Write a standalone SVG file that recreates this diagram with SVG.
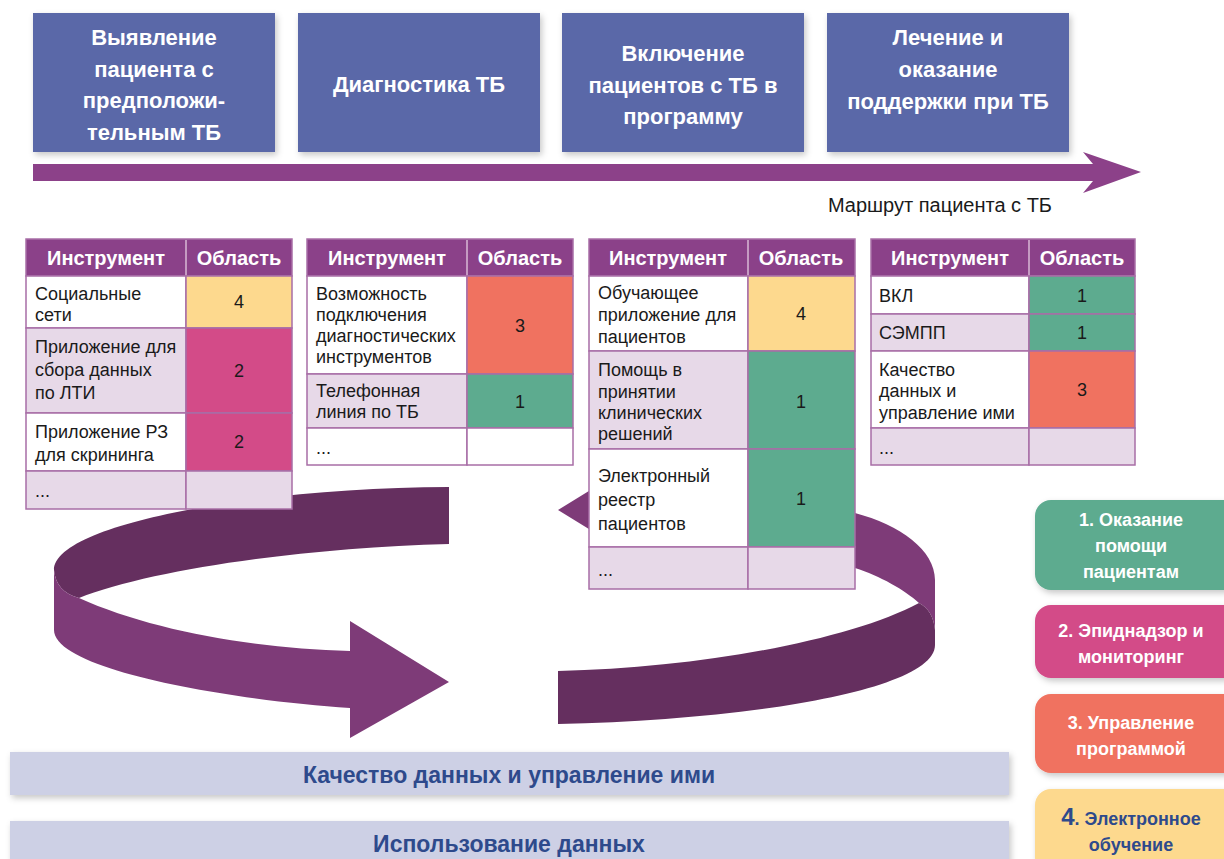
<svg xmlns="http://www.w3.org/2000/svg" width="1224" height="859" viewBox="0 0 1224 859">
<defs>
<filter id="sh" x="-10%" y="-10%" width="130%" height="140%">
<feDropShadow dx="2" dy="3" stdDeviation="3" flood-color="#000" flood-opacity="0.22"/>
</filter>
<style>
text{font-family:"Liberation Sans",Arial,sans-serif;}
.stage rect{fill:#5a67a8;filter:url(#sh);}
.stage text{font-size:22px;font-weight:bold;fill:#fff;text-anchor:middle;}
.hdr{fill:#8b4189;stroke:#a86ea6;stroke-width:1.5;}
.hs{stroke:#d9b9d6;stroke-width:1.5;}
.ht{font-size:20px;font-weight:bold;fill:#fff;text-anchor:middle;}
.cw{fill:#fff;stroke:#a86ea6;stroke-width:1.5;}
.cl{fill:#e7d9e8;stroke:#a86ea6;stroke-width:1.5;}
.c1{fill:#5dab8f;stroke:#a86ea6;stroke-width:1.5;}
.c2{fill:#d34b88;stroke:#a86ea6;stroke-width:1.5;}
.c3{fill:#f07260;stroke:#a86ea6;stroke-width:1.5;}
.c4{fill:#fdd98e;stroke:#a86ea6;stroke-width:1.5;}
.tt{font-size:18px;fill:#1a1a1a;}
.tn{font-size:18px;fill:#1a1a1a;text-anchor:middle;}
.lg rect{filter:url(#sh);}
.lg text{font-size:18px;font-weight:bold;fill:#fff;text-anchor:middle;}
.bar rect{fill:#cdd0e5;filter:url(#sh);}
.bar text{font-size:23px;font-weight:bold;fill:#2e4a8c;text-anchor:middle;}
.dark{fill:#652f5f;}
.light{fill:#7e3b78;}
</style>
</defs>
<rect width="1224" height="859" fill="#fff"/>

<g id="connectors">
<polygon points="33,164 1093,164 1083,152 1141,172 1083,193 1093,181 33,181" fill="#8c4189"/>
<path class="dark" d="M449,487 C250,488 54,525 54,570 Q56,592 79,598 C150,570 300,548 449,544 Z"/>
<path class="light" d="M54,570 Q56,592 79,598 C150,630 250,648 350,651 L350,621 L449,682 L350,738 L350,708 C230,700 54,670 54,630 Z"/>
<path class="light" d="M800,500 L855,513 C900,525 935,550 935,580 L935,630 Q933,610 919,603 C905,590 880,576 855,568 L800,555 Z"/>
<path class="dark" d="M919,603 Q933,610 935,630 L935,645 C935,690 750,720 558,724 L558,671 C700,668 850,640 919,603 Z"/>
<polygon class="light" points="558,510 610,478 610,542"/>
</g>

<g id="stage-1" class="stage">
<rect x="33" y="13" width="242" height="139"/>
<text x="154" y="45">Выявление</text>
<text x="154" y="77">пациента с</text>
<text x="154" y="108">предположи-</text>
<text x="154" y="140">тельным ТБ</text>
</g>
<g id="stage-2" class="stage">
<rect x="298" y="13" width="242" height="139"/>
<text x="419" y="92">Диагностика ТБ</text>
</g>
<g id="stage-3" class="stage">
<rect x="562" y="13" width="242" height="139"/>
<text x="683" y="61">Включение</text>
<text x="683" y="93">пациентов с ТБ в</text>
<text x="683" y="124">программу</text>
</g>
<g id="stage-4" class="stage">
<rect x="827" y="13" width="242" height="139"/>
<text x="948" y="45">Лечение и</text>
<text x="948" y="77">оказание</text>
<text x="948" y="109">поддержки при ТБ</text>
</g>

<g id="route-label">
<text x="1052" y="212" font-size="20" fill="#1a1a1a" text-anchor="end">Маршрут пациента с ТБ</text>
</g>

<g id="table-1">
<rect class="hdr" x="26" y="239" width="266" height="37"/>
<line class="hs" x1="186" y1="240" x2="186" y2="276"/>
<text class="ht" x="106" y="265">Инструмент</text>
<text class="ht" x="239" y="265">Область</text>
<rect class="cw" x="26" y="276" width="160" height="52"/><rect class="c4" x="186" y="276" width="106" height="52"/>
<text class="tt" x="35" y="300">Социальные</text><text class="tt" x="35" y="321">сети</text>
<text class="tn" x="239" y="308">4</text>
<rect class="cl" x="26" y="328" width="160" height="85"/><rect class="c2" x="186" y="328" width="106" height="85"/>
<text class="tt" x="35" y="353">Приложение для</text><text class="tt" x="35" y="376">сбора данных</text><text class="tt" x="35" y="399">по ЛТИ</text>
<text class="tn" x="239" y="377">2</text>
<rect class="cw" x="26" y="413" width="160" height="58"/><rect class="c2" x="186" y="413" width="106" height="58"/>
<text class="tt" x="35" y="438">Приложение РЗ</text><text class="tt" x="35" y="461">для скрининга</text>
<text class="tn" x="239" y="448">2</text>
<rect class="cl" x="26" y="471" width="160" height="38"/><rect class="cl" x="186" y="471" width="106" height="38"/>
<text class="tt" x="35" y="497">...</text>
</g>

<g id="table-2">
<rect class="hdr" x="307" y="239" width="266" height="37"/>
<line class="hs" x1="467" y1="240" x2="467" y2="276"/>
<text class="ht" x="387" y="265">Инструмент</text>
<text class="ht" x="520" y="265">Область</text>
<rect class="cw" x="307" y="276" width="160" height="98"/><rect class="c3" x="467" y="276" width="106" height="98"/>
<text class="tt" x="316" y="300">Возможность</text><text class="tt" x="316" y="321">подключения</text><text class="tt" x="316" y="342">диагностических</text><text class="tt" x="316" y="363">инструментов</text>
<text class="tn" x="520" y="332">3</text>
<rect class="cl" x="307" y="374" width="160" height="54"/><rect class="c1" x="467" y="374" width="106" height="54"/>
<text class="tt" x="316" y="397">Телефонная</text><text class="tt" x="316" y="418">линия по ТБ</text>
<text class="tn" x="520" y="408">1</text>
<rect class="cw" x="307" y="428" width="160" height="37"/><rect class="cw" x="467" y="428" width="106" height="37"/>
<text class="tt" x="316" y="454">...</text>
</g>

<g id="table-3">
<rect class="hdr" x="589" y="239" width="266" height="37"/>
<line class="hs" x1="748" y1="240" x2="748" y2="276"/>
<text class="ht" x="668" y="265">Инструмент</text>
<text class="ht" x="801" y="265">Область</text>
<rect class="cw" x="589" y="276" width="159" height="75"/><rect class="c4" x="748" y="276" width="107" height="75"/>
<text class="tt" x="598" y="299">Обучающее</text><text class="tt" x="598" y="321">приложение для</text><text class="tt" x="598" y="343">пациентов</text>
<text class="tn" x="801" y="320">4</text>
<rect class="cl" x="589" y="351" width="159" height="98"/><rect class="c1" x="748" y="351" width="107" height="98"/>
<text class="tt" x="598" y="376">Помощь в</text><text class="tt" x="598" y="398">принятии</text><text class="tt" x="598" y="419">клинических</text><text class="tt" x="598" y="440">решений</text>
<text class="tn" x="801" y="408">1</text>
<rect class="cw" x="589" y="449" width="159" height="98"/><rect class="c1" x="748" y="449" width="107" height="98"/>
<text class="tt" x="598" y="482">Электронный</text><text class="tt" x="598" y="506">реестр</text><text class="tt" x="598" y="530">пациентов</text>
<text class="tn" x="801" y="505">1</text>
<rect class="cl" x="589" y="547" width="159" height="42"/><rect class="cl" x="748" y="547" width="107" height="42"/>
<text class="tt" x="598" y="576">...</text>
</g>

<g id="table-4">
<rect class="hdr" x="871" y="239" width="264" height="37"/>
<line class="hs" x1="1029" y1="240" x2="1029" y2="276"/>
<text class="ht" x="950" y="265">Инструмент</text>
<text class="ht" x="1082" y="265">Область</text>
<rect class="cw" x="871" y="276" width="158" height="38"/><rect class="c1" x="1029" y="276" width="106" height="38"/>
<text class="tt" x="879" y="302">ВКЛ</text>
<text class="tn" x="1082" y="302">1</text>
<rect class="cl" x="871" y="314" width="158" height="37"/><rect class="c1" x="1029" y="314" width="106" height="37"/>
<text class="tt" x="879" y="339">СЭМПП</text>
<text class="tn" x="1082" y="339">1</text>
<rect class="cw" x="871" y="351" width="158" height="77"/><rect class="c3" x="1029" y="351" width="106" height="77"/>
<text class="tt" x="879" y="376">Качество</text><text class="tt" x="879" y="397">данных и</text><text class="tt" x="879" y="419">управление ими</text>
<text class="tn" x="1082" y="396">3</text>
<rect class="cl" x="871" y="428" width="158" height="37"/><rect class="cl" x="1029" y="428" width="106" height="37"/>
<text class="tt" x="879" y="454">...</text>
</g>

<g id="legend-1" class="lg">
<rect x="1035" y="500" width="205" height="90" rx="16" fill="#5dab8f"/>
<text x="1131" y="526">1. Оказание</text><text x="1131" y="552">помощи</text><text x="1131" y="578">пациентам</text>
</g>
<g id="legend-2" class="lg">
<rect x="1035" y="605" width="205" height="73" rx="16" fill="#d34b88"/>
<text x="1131" y="637">2. Эпиднадзор и</text><text x="1131" y="663">мониторинг</text>
</g>
<g id="legend-3" class="lg">
<rect x="1035" y="694" width="205" height="79" rx="16" fill="#f07260"/>
<text x="1131" y="729">3. Управление</text><text x="1131" y="755">программой</text>
</g>
<g id="legend-4" class="lg">
<rect x="1035" y="789" width="205" height="85" rx="16" fill="#fdd98e"/>
<text x="1131" y="825" style="fill:#2e4a8c"><tspan font-size="24">4</tspan>. Электронное</text>
<text x="1131" y="851" style="fill:#2e4a8c">обучение</text>
</g>

<g id="bar-quality" class="bar">
<rect x="10" y="752" width="999" height="43"/>
<text x="509" y="783">Качество данных и управление ими</text>
</g>
<g id="bar-use" class="bar">
<rect x="10" y="821" width="999" height="45"/>
<text x="509" y="852">Использование данных</text>
</g>
</svg>
